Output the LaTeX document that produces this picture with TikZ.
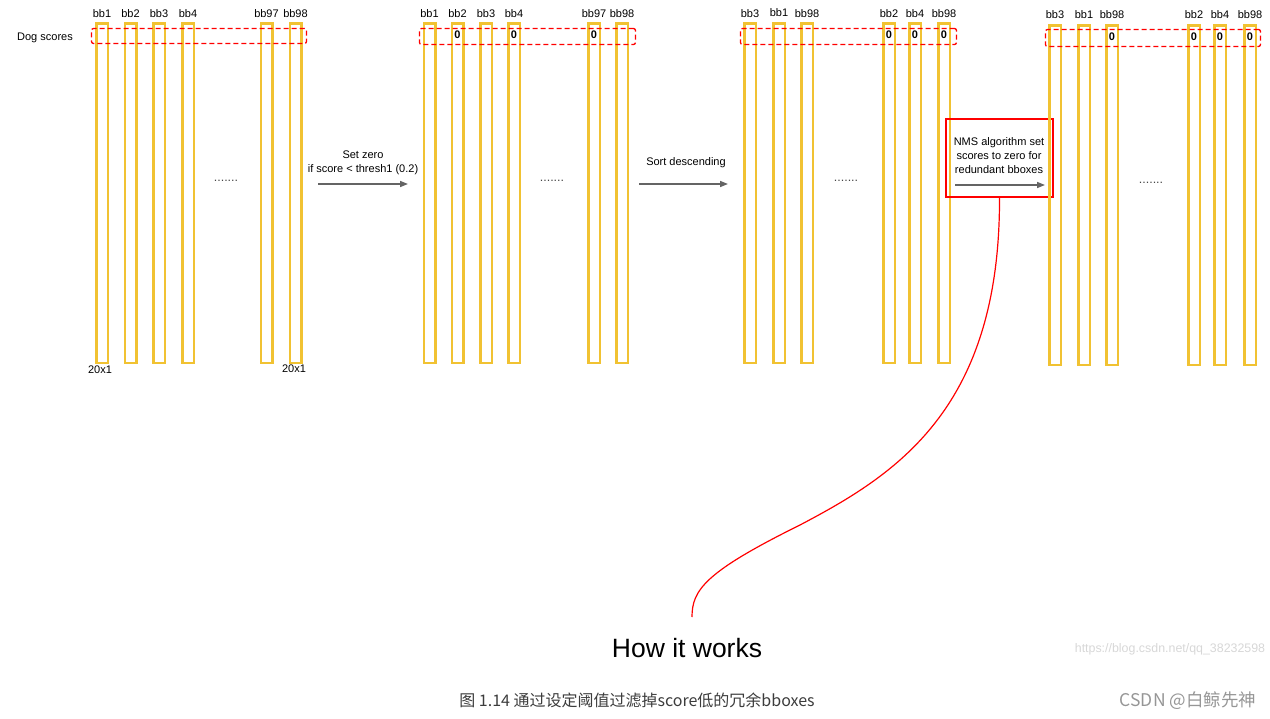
\documentclass[tikz,border=0pt]{standalone}
\usepackage{fontspec}
\setmainfont{Liberation Sans}
\newfontfamily\cjk{Noto Sans CJK SC}
\usetikzlibrary{arrows.meta}
\definecolor{baryellow}{RGB}{241,194,50}
\definecolor{arrowgray}{RGB}{100,100,100}
\definecolor{dotgray}{RGB}{70,70,70}
\definecolor{capgray}{RGB}{60,60,60}
\definecolor{markgray}{RGB}{215,215,215}
\definecolor{csdngray}{RGB}{150,150,150}
\begin{document}
\begin{tikzpicture}[x=1pt, y=-1pt,
    font=\fontsize{11}{14}\selectfont,
    bar/.style={draw=baryellow, line width=2.5pt, minimum width=11.5pt, minimum height=339.5pt, inner sep=0pt},
    lbl/.style={inner sep=0pt},
    zero/.style={inner sep=0pt, font=\fontsize{11}{14}\selectfont\bfseries},
    scores/.style={draw=red, dash pattern=on 5pt off 3pt, line width=1.3pt, rounded corners=2pt, inner sep=0pt},
    flow/.style={draw=arrowgray, line width=1.5pt, -{Triangle[length=8pt,width=6pt]}},
    dots/.style={text=dotgray, inner sep=0pt, font=\fontsize{12.5}{14}\selectfont}]
    \useasboundingbox (0,0) rectangle (1270,719);

    % first group
    \node[lbl] (dog) at (45,38) {Dog scores};
    \foreach \x/\t [count=\i] in {102/bb1,130.5/bb2,159/bb3,188/bb4,266.5/bb97,295.5/bb98} {
        \node[bar] (a\i) at (\x,193.5) {};
        \node[lbl] (la\i) at (\x,14) {\t};
    }
    \node[scores, minimum width=215pt, minimum height=15pt] (sa) at (199,36) {};
    \node[dots] (da) at (226,181) {.......};
    \node[lbl] (dim1) at (100,370) {20x1};
    \node[lbl] (dim2) at (294,369) {20x1};

    \node[lbl, align=center] (zt) at (363,163) {Set zero\\if score < thresh1 (0.2)};
    \coordinate (za) at (318,184);
    \coordinate (zb) at (408,184);
    \draw[flow] (za) -- (zb);

    % second group
    \foreach \x/\t [count=\i] in {429.5/bb1,457.5/bb2,486/bb3,514/bb4,594/bb97,622/bb98} {
        \node[bar] (b\i) at (\x,193.5) {};
        \node[lbl] (lb\i) at (\x,14) {\t};
    }
    \node[zero] (zb2) at (457.5,35) {0};
    \node[zero] (zb4) at (514,35) {0};
    \node[zero] (zb5) at (594,35) {0};
    \node[scores, minimum width=216pt, minimum height=16pt] (sb) at (527.5,36.5) {};
    \node[dots] (db) at (552,181) {.......};

    \node[lbl] (st) at (686,163) {Sort descending};
    \coordinate (sa1) at (639,184);
    \coordinate (sb1) at (728,184);
    \draw[flow] (sa1) -- (sb1);

    % third group
    \foreach \x/\t/\y [count=\i] in {750/bb3/14,779/bb1/13,807/bb98/14,889/bb2/14,915/bb4/14,944/bb98/14} {
        \node[bar] (c\i) at (\x,193.5) {};
        \node[lbl] (lc\i) at (\x,\y) {\t};
    }
    \node[zero] (zc4) at (889,35) {0};
    \node[zero] (zc5) at (915,35) {0};
    \node[zero] (zc6) at (944,35) {0};
    \node[scores, minimum width=216pt, minimum height=16pt] (sc) at (848.5,36.5) {};
    \node[dots] (dc) at (846,181) {.......};

    \node[draw=red, line width=2.5pt, minimum width=107pt, minimum height=78pt] (nms) at (999.5,158) {};
    \node[lbl, align=center] (nt) at (999,156) {NMS algorithm set\\scores to zero for\\redundant bboxes};
    \coordinate (na) at (955,185);
    \coordinate (nb) at (1045,185);
    \draw[flow] (na) -- (nb);

    % fourth group
    \foreach \x/\t [count=\i] in {1055/bb3,1084/bb1,1112/bb98,1194/bb2,1220/bb4,1250/bb98} {
        \node[bar] (d\i) at (\x,195.5) {};
        \node[lbl] (ld\i) at (\x,15) {\t};
    }
    \node[zero] (zd3) at (1112,37) {0};
    \node[zero] (zd4) at (1194,37) {0};
    \node[zero] (zd5) at (1220,37) {0};
    \node[zero] (zd6) at (1250,37) {0};
    \node[scores, minimum width=215pt, minimum height=17pt] (sd) at (1153,38) {};
    \node[dots] (dd) at (1151,183) {.......};

    % callout
    \node[lbl, font=\fontsize{26.5}{30}\selectfont] (how) at (687,648) {How it works};
    \coordinate (mid) at (800,525);
    \coordinate (tail) at (692,617);
    \draw[red, line width=1.2pt] (nms.south) .. controls (1000,410) and (895,475) .. (mid)
        .. controls (705,572) and (692,590) .. (tail);

    \node[lbl, text=markgray, font=\fontsize{12.4}{14}\selectfont] (url) at (1170,649) {https://blog.csdn.net/qq\_38232598};
    \node[lbl, text=capgray, font=\cjk\fontsize{16}{18}\selectfont] (cap) at (637,700) {图 1.14 通过设定阈值过滤掉score低的冗余bboxes};
    \node[lbl, text=csdngray, font=\cjk\fontsize{17.5}{19}\selectfont] (csdn) at (1188,701) {CSDN @白鲸先神};
\end{tikzpicture}
\end{document}
